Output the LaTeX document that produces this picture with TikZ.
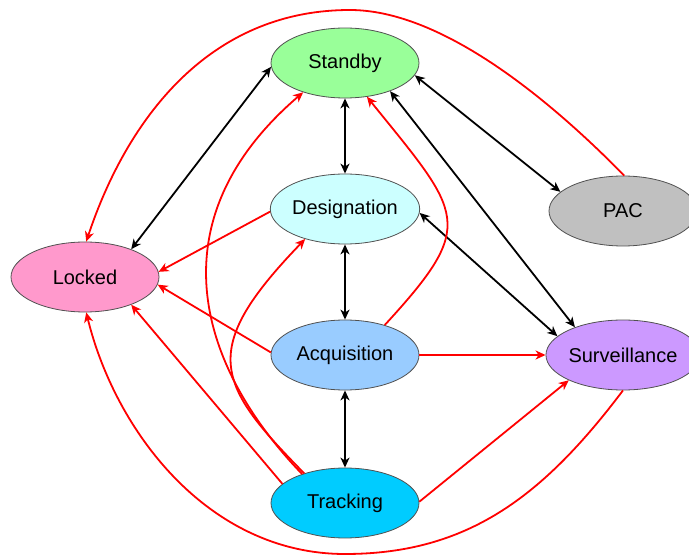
\documentclass[tikz,border=0pt]{standalone}
\usepackage{fontspec}
\setmainfont{Liberation Sans}
\usetikzlibrary{shapes.geometric,arrows.meta}
\definecolor{cStandby}{HTML}{99FF99}
\definecolor{cDesig}{HTML}{CCFFFF}
\definecolor{cLocked}{HTML}{FF99CC}
\definecolor{cAcq}{HTML}{99CCFF}
\definecolor{cPAC}{HTML}{C0C0C0}
\definecolor{cSurv}{HTML}{CC99FF}
\definecolor{cTrack}{HTML}{00CCFF}
\definecolor{cBorder}{HTML}{505050}
\definecolor{cRed}{HTML}{FF0000}
\tikzset{
  state/.style={ellipse, draw=cBorder, line width=0.8pt, minimum width=148pt,
    minimum height=70pt, inner sep=0pt, font=\fontsize{20}{24}\selectfont},
  blkarrow/.style={line width=1.8pt, draw=black,
    {Stealth[length=10pt,width=9pt,inset=3pt]}-{Stealth[length=10pt,width=9pt,inset=3pt]}},
  redarrow/.style={line width=1.8pt, draw=cRed,
    -{Stealth[length=10pt,width=9pt,inset=3pt]}}
}
\begin{document}
\begin{tikzpicture}[x=1pt,y=-1pt]
\useasboundingbox (0,0) rectangle (689,556);
\node[state, fill=cStandby] (standby) at (345,63) {Standby};
\node[state, fill=cDesig] (desig) at (345,209) {Designation};
\node[state, fill=cLocked] (locked) at (85,277) {Locked};
\node[state, fill=cAcq] (acq) at (345,355) {Acquisition};
\node[state, fill=cPAC] (pac) at (623,211) {PAC};
\node[state, fill=cSurv] (surv) at (623,355) {Surveillance};
\node[state, fill=cTrack] (track) at (345,503) {Tracking};
\coordinate (toppeak) at (350,10);
\coordinate (botpeak) at (345,554);

% black two-way arrows
\draw[blkarrow] (standby.-90) -- (desig.90);
\draw[blkarrow] (desig.-90) -- (acq.90);
\draw[blkarrow] (acq.-90) -- (track.90);
\draw[blkarrow] (standby.183) -- (locked.31);
\draw[blkarrow] (standby.-10) -- (pac.163);
\draw[blkarrow] (standby.-32) -- (surv.150);
\draw[blkarrow] (desig.-3) -- (surv.164);

% red one-way arrows
\draw[redarrow] (pac.88) .. controls (543.6,93.3) and (438.4,10) .. (toppeak)
  .. controls (207.8,10) and (126.5,120.7) .. (locked.88);
\draw[redarrow] (desig.182) -- (locked.4);
\draw[redarrow] (acq.178) -- (locked.-6);
\draw[redarrow] (track.163) -- (locked.-31);
\draw[redarrow] (surv.-90) .. controls (543,496.4) and (467.7,554) .. (botpeak)
  .. controls (207.6,554) and (115,430.3) .. (locked.-88);
\draw[redarrow] (track.146) .. controls (196.3,364.2) and (155,219.2) .. (standby.215);
\draw[redarrow] (track.144) .. controls (216.5,384) and (197.3,350.7) .. (desig.217);
\draw[redarrow] (acq.37) .. controls (478,223.6) and (462.4,215) .. (standby.-57);
\draw[redarrow] (acq.0) -- (surv.180);
\draw[redarrow] (track.1) -- (surv.205);
\end{tikzpicture}
\end{document}
